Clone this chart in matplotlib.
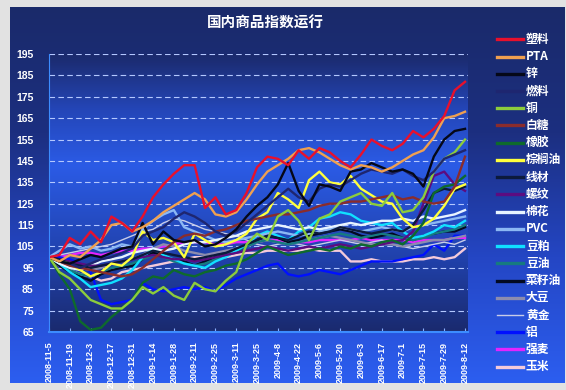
import numpy as np
import pandas as pd
import matplotlib
matplotlib.use('Agg')
import matplotlib.pyplot as plt
from matplotlib.colors import LinearSegmentedColormap
from matplotlib.lines import Line2D

# weekly samples, 2008-11-5 .. 2009-8-12
dates = pd.date_range('2008-11-05', periods=41, freq='7D')
tick_labels = ['2008-11-5', '2008-11-19', '2008-12-3', '2008-12-17', '2008-12-31',
               '2009-1-14', '2009-1-28', '2009-2-11', '2009-2-25', '2009-3-11',
               '2009-3-25', '2009-4-8', '2009-4-22', '2009-5-6', '2009-5-20',
               '2009-6-3', '2009-6-17', '2009-7-1', '2009-7-15', '2009-7-29', '2009-8-12']

names = ['塑料', 'PTA', '锌', '燃料', '铜', '白糖', '橡胶', '棕榈油', '线材', '螺纹',
         '棉花', 'PVC', '豆粕', '豆油', '菜籽油', '大豆', '黄金', '铝', '强麦', '玉米']
colors = ['#e8102c', '#f0a050', '#050818', '#1e2670', '#8ccc3c', '#8a2c2c', '#0e6a2c', '#ffff3c',
          '#0c1a3c', '#5c0c80', '#e8f4ff', '#8cb8f4', '#10e0ff', '#167a80', '#020a22', '#8c8cae',
          '#c8cce8', '#0010ff', '#e424ff', '#f4cada']

suliao = [100, 101, 109, 106, 112, 107, 119, 116, 112, 119, 128, 134, 139, 143, 143, 123, 128, 120, 122, 130,
          142, 147, 146, 143, 150, 146, 151, 149, 145, 142, 148, 155, 152, 150, 153, 159, 156, 160, 166, 178, 182]
pta = [100, 98, 101, 100, 104, 108, 115, 116, 112, 114, 117, 121, 124, 127, 130, 127, 120, 119, 121, 127,
       134, 140, 143, 146, 150, 151, 149, 146, 143, 141, 143, 142, 140, 142, 145, 148, 150, 156, 165, 166, 168]
xin = [100, 98, 97, 99, 101, 100, 102, 104, 105, 116, 106, 112, 108, 107, 108, 105, 106, 109, 113, 119,
       124, 128, 134, 144, 131, 124, 134, 133, 131, 140, 141, 144, 142, 140, 141, 139, 133, 147, 155, 159, 160]
ranliao = [100, 98, 97, 95, 97, 99, 100, 102, 104, 110, 112, 114, 118, 121, 119, 116, 112, 110, 112, 116,
           120, 124, 128, 132, 128, 126, 132, 134, 133, 136, 139, 141, 140, 139, 141, 138, 136, 140, 146, 148, 150]
tong = [100, 93, 90, 85, 80, 78, 76, 76, 80, 86, 83, 86, 82, 80, 88, 85, 84, 89, 93, 106,
        111, 108, 119, 122, 117, 108, 118, 120, 126, 128, 130, 125, 124, 130, 121, 122, 128, 140, 146, 149, 155]
baitang = [100, 98, 96, 95, 94, 93, 92, 91, 92, 95, 99, 103, 107, 110, 111, 110, 112, 113, 115, 117,
           118, 119, 120, 120, 121, 122, 124, 125, 125, 126, 126, 127, 128, 129, 127, 128, 126, 125, 126, 133, 147]
xiangjiao = [100, 92, 85, 70, 66, 67, 72, 76, 80, 88, 91, 90, 94, 92, 91, 93, 94, 96, 97, 99,
             102, 105, 103, 101, 102, 103, 104, 103, 105, 104, 106, 105, 107, 108, 106, 110, 116, 130, 133, 134, 138]
zonglv = [100, 98, 97, 94, 91, 93, 97, 96, 100, 112, 108, 109, 107, 100, 111, 108, 105, 106, 108, 111,
          118, 121, 130, 127, 123, 136, 140, 135, 134, 138, 132, 129, 126, 125, 118, 114, 115, 118, 124, 132, 134]
xiancai = [100, 99, 97, 96, 95, 96, 97, 98, 99, 101, 103, 102, 101, 100, 99, 100, 101, 102, 104, 106,
           108, 110, 109, 108, 110, 112, 111, 112, 114, 113, 112, 111, 112, 113, 112, 115, 122, 130, 132, 131, 133]
luowen = [100, 99, 98, 97, 96, 96, 97, 98, 99, 100, 101, 100, 99, 99, 98, 99, 100, 101, 102, 103,
          104, 105, 104, 103, 104, 105, 104, 105, 106, 105, 104, 105, 106, 107, 108, 112, 125, 138, 140, 134, 131]
mianhua = [100, 97, 95, 94, 96, 98, 99, 100, 102, 103, 104, 103, 104, 106, 107, 107, 108, 109, 110, 112,
           113, 114, 115, 114, 113, 114, 113, 114, 115, 116, 115, 116, 117, 117, 118, 117, 119, 118, 119, 120, 122]
pvc = [100, 103, 106, 104, 105, 103, 104, 106, 105, 113, 117, 120, 122, 114, 112, 110, 108, 107, 108, 109,
       110, 111, 112, 111, 110, 111, 112, 113, 114, 113, 112, 113, 114, 113, 112, 114, 115, 116, 117, 118, 119]
doupo = [100, 97, 93, 90, 86, 87, 88, 90, 94, 100, 104, 101, 99, 97, 96, 95, 98, 100, 103, 106,
         110, 112, 110, 108, 112, 114, 118, 119, 121, 120, 117, 116, 115, 116, 112, 109, 110, 112, 115, 114, 117]
douyou = [100, 97, 94, 92, 91, 93, 95, 96, 97, 99, 101, 100, 98, 97, 96, 97, 99, 101, 103, 105,
          107, 108, 107, 106, 107, 108, 109, 110, 111, 110, 109, 110, 111, 110, 109, 108, 109, 111, 112, 113, 115]
caizi = [100, 96, 93, 91, 89, 92, 94, 95, 96, 99, 102, 101, 99, 98, 96, 98, 100, 101, 103, 105,
         108, 110, 109, 107, 108, 110, 111, 112, 113, 112, 110, 109, 110, 111, 109, 108, 110, 111, 112, 112, 114]
dadou = [100, 98, 96, 95, 94, 95, 97, 98, 99, 101, 104, 106, 105, 103, 102, 101, 102, 103, 104, 105,
         107, 108, 107, 106, 107, 108, 109, 110, 109, 108, 107, 106, 106, 106, 105, 106, 107, 108, 108, 109, 110]
huangjin = [100, 101, 102, 103, 104, 105, 106, 108, 110, 112, 113, 116, 118, 117, 115, 113, 112, 111, 110, 108,
            106, 105, 106, 107, 106, 105, 106, 107, 108, 107, 106, 107, 108, 106, 105, 104, 105, 106, 107, 106, 108]
lv = [100, 100, 99, 97, 93, 80, 78, 79, 80, 88, 85, 84, 85, 86, 85, 86, 84, 87, 90, 92,
      94, 96, 97, 92, 91, 92, 94, 93, 92, 94, 96, 98, 98, 98, 99, 100, 101, 106, 103, 110, 110]
qiangmai = [100, 100, 101, 102, 102, 101, 102, 103, 103, 104, 104, 105, 106, 107, 107, 107, 106, 106, 107, 107,
            107, 108, 108, 107, 107, 107, 108, 108, 108, 108, 109, 108, 108, 108, 108, 107, 108, 108, 108, 109, 109]
yumi = [100, 96, 94, 92, 91, 89, 90, 93, 94, 95, 96, 97, 98, 99, 100, 100, 101, 100, 101, 102,
        102, 103, 103, 103, 103, 104, 103, 103, 103, 98, 98, 99, 98, 98, 98, 99, 99, 100, 99, 100, 104]

series = [suliao, pta, xin, ranliao, tong, baitang, xiangjiao, zonglv, xiancai, luowen,
          mianhua, pvc, doupo, douyou, caizi, dadou, huangjin, lv, qiangmai, yumi]

W, H = 566, 390
fig = plt.figure(figsize=(W / 100, H / 100), dpi=100, facecolor='#e2e2e2')

# outer blue box with vertical gradient
bg = fig.add_axes([10 / W, 1 - 383 / H, 555 / W, 376 / H])
outer = LinearSegmentedColormap.from_list('outer', ['#2c5ef0', '#2446c4', '#1c2f80', '#1a2a6a'])
bg.imshow(np.linspace(0, 1, 256).reshape(-1, 1), aspect='auto', cmap=outer,
          extent=[0, 1, 0, 1], origin='lower')
bg.axis('off')

ax = fig.add_axes([49 / W, 58 / H, 419 / W, 278 / H])
x0 = dates[0]
x1 = dates[-1] + pd.Timedelta(days=2)
inner = LinearSegmentedColormap.from_list('inner', [(0, '#1a2a6e'), (0.25, '#2040a8'), (0.6, '#2b5be6'),
                                                     (0.8, '#2446b8'), (1, '#1b2a6c')])
ax.imshow(np.linspace(0, 1, 256).reshape(-1, 1), aspect='auto', cmap=inner, origin='lower',
          extent=[matplotlib.dates.date2num(x0), matplotlib.dates.date2num(x1), 65, 195], zorder=0)

for v in range(75, 200, 10):
    ax.axhline(v, color='#b4c8ff', lw=0.8, ls=(0, (5, 3)), zorder=1)

for name, col, vals in reversed(list(zip(names, colors, series))):
    lw = 1.0 if name == '黄金' else 1.7
    ax.plot(dates, vals, color=col, lw=lw, zorder=2)

ax.set_xlim(x0, x1)
ax.set_ylim(65, 195)
ax.set_yticks(range(65, 200, 10))
ax.set_yticklabels([str(v) for v in range(65, 200, 10)], fontsize=7.5, fontweight='bold',
                   color='white', family='Liberation Sans')
ax.set_xticks(dates[::2])
ax.set_xticklabels(tick_labels, rotation=90, fontsize=6.5, color='white', family='Liberation Sans',
                   fontweight='bold')
ax.tick_params(axis='y', length=0, pad=11)
ax.tick_params(axis='x', length=3, direction='in', color='#8ab0ff', pad=7)
for s in ['top', 'right']:
    ax.spines[s].set_visible(False)
ax.spines['left'].set_color('#3c8cff')
ax.spines['bottom'].set_color('#3c8cff')
ax.spines['bottom'].set_linewidth(1.5)

fig.text(265 / W, 1 - 23 / H, '国内商品指数运行', ha='center', va='center', color='white',
         fontsize=10.5, fontweight='bold', family=['Noto Sans CJK SC', 'DejaVu Sans'])

# legend, hand placed
for i, (name, col) in enumerate(zip(names, colors)):
    y = 1 - (39.3 + 17.23 * i) / H
    lw = 1.0 if name == '黄金' else 2.4
    fig.add_artist(Line2D([497 / W, 523 / W], [y, y], color=col, lw=lw))
    fig.text(526 / W, y, name, va='center', ha='left', color='white', fontsize=8.5,
             fontweight='bold', family=['Noto Sans CJK SC', 'DejaVu Sans'])

fig.savefig('out.png', dpi=100, facecolor=fig.get_facecolor())
